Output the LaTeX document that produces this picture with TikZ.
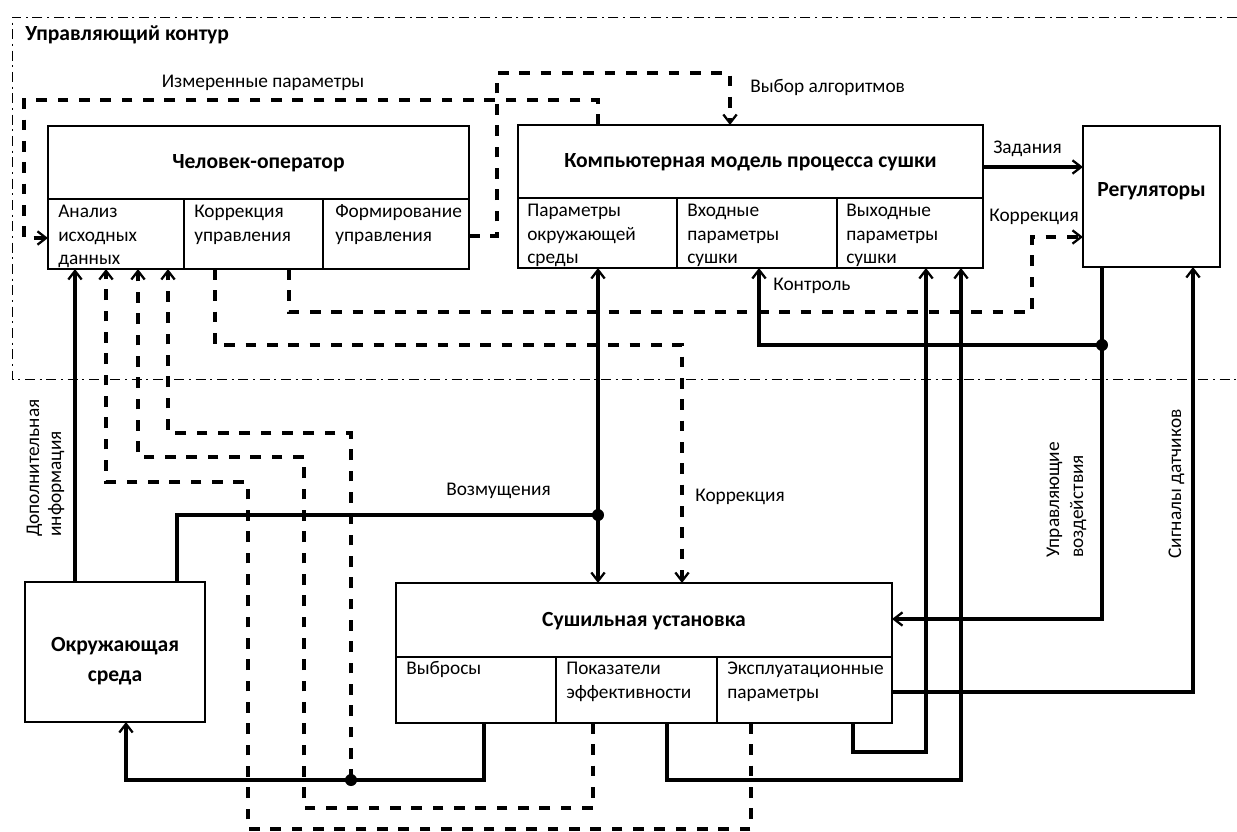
\documentclass[tikz,border=0pt]{standalone}
\usepackage{fontspec}
\setmainfont{Carlito}
\usetikzlibrary{arrows.meta,fit}
\begin{document}
\begin{tikzpicture}[x=0.75pt,y=-0.75pt,
  box/.style={draw, line width=1pt, inner sep=0pt, outer sep=0pt},
  t/.style={inner sep=0pt, anchor=base west, font=\fontsize{14.5}{17}\selectfont},
  tc/.style={inner sep=0pt, anchor=base, font=\fontsize{14.5}{17}\selectfont},
  tb/.style={inner sep=0pt, anchor=base, font=\fontsize{16.2}{19}\selectfont\bfseries},
  ln/.style={line width=2.5pt},
  dl/.style={line width=2.5pt, dash pattern=on 8pt off 8pt},
  ar/.style={-{Straight Barb[length=6.5pt,width=10pt,line width=1.7pt]}},
  ar2/.style={{Straight Barb[length=6.5pt,width=10pt,line width=1.7pt]}-{Straight Barb[length=6.5pt,width=10pt,line width=1.7pt]}},
  dot/.style={circle, fill, inner sep=0pt, minimum size=9pt},
  dashdot/.style={line width=0.7pt, dash pattern=on 7.5pt off 3.5pt on 1.5pt off 3.5pt}
]
\useasboundingbox (0,0) rectangle (1237,831);

% control loop boundary
\draw[dashdot] (1237,17) -- (12,17) -- (12,379) -- (1237,379);
\node[inner sep=0pt, anchor=base west, font=\fontsize{16.2}{19}\selectfont\bfseries] (title) at (25,41) {Управляющий контур};

% Человек-оператор
\node[box, fit={(48,126) (469,269)}] (op) {};
\node[box, fit={(48,199) (184,269)}] (op1) {};
\node[box, fit={(184,199) (323,269)}] (op2) {};
\node[box, fit={(323,199) (469,269)}] (op3) {};
\node[tb] (opT) at (258.5,168) {Человек-оператор};
\node[t] (op1a) at (58,217) {Анализ};
\node[t] (op1b) at (58,241) {исходных};
\node[t] (op1c) at (58,264) {данных};
\node[t] (op2a) at (194,217) {Коррекция};
\node[t] (op2b) at (194,241) {управления};
\node[t] (op3a) at (335,217) {Формирование};
\node[t] (op3b) at (335,241) {управления};

% Компьютерная модель
\node[box, fit={(518,125) (983,268)}] (cm) {};
\node[box, fit={(518,198) (677,268)}] (cm1) {};
\node[box, fit={(677,198) (837,268)}] (cm2) {};
\node[box, fit={(837,198) (983,268)}] (cm3) {};
\node[tb] (cmT) at (750.5,167) {Компьютерная модель процесса сушки};
\node[t] (cm1a) at (527,216) {Параметры};
\node[t] (cm1b) at (527,240) {окружающей};
\node[t] (cm1c) at (527,263) {среды};
\node[t] (cm2a) at (687,216) {Входные};
\node[t] (cm2b) at (687,240) {параметры};
\node[t] (cm2c) at (687,263) {сушки};
\node[t] (cm3a) at (846,216) {Выходные};
\node[t] (cm3b) at (846,240) {параметры};
\node[t] (cm3c) at (846,263) {сушки};

% Регуляторы
\node[box, fit={(1083,126) (1220,267)}] (reg) {};
\node[tb] (regT) at (1151.5,196) {Регуляторы};

% Сушильная установка
\node[box, fit={(396,583) (892,723)}] (sus) {};
\node[box, fit={(396,657) (556,723)}] (sus1) {};
\node[box, fit={(556,657) (717,723)}] (sus2) {};
\node[box, fit={(717,657) (892,723)}] (sus3) {};
\node[tb] (susT) at (644,626) {Сушильная установка};
\node[t] (sus1a) at (406,674) {Выбросы};
\node[t] (sus2a) at (566,674) {Показатели};
\node[t] (sus2b) at (566,698) {эффективности};
\node[t] (sus3a) at (727,674) {Эксплуатационные};
\node[t] (sus3b) at (727,698) {параметры};

% Окружающая среда
\node[box, fit={(25,582) (205,722)}] (env) {};
\node[tb] (envA) at (115,651) {Окружающая};
\node[tb] (envB) at (115,681) {среда};

% junction dots
\node[dot] (d1) at (1102,345) {};
\node[dot] (d2) at (351,780) {};
\node[dot] (d3) at (598,515) {};

% connectors
\draw[dl,ar] (598,0 |- cm.north) |- (24,100) |- (op1.west |- 0,238);
\draw[dl,ar] (op3.east |- 0,236) -| (497,73) -| (730,0 |- cm.north);
\draw[ln,ar] (cm.east |- 0,167) -- (reg.west |- 0,167);
\draw[dl,ar] (289,0 |- op2.south) |- (1032,312) |- (reg.west |- 0,237);
\draw[ln,ar] (1102,0 |- reg.south) |- (sus.east |- 0,619);
\draw[ln,ar] (d1.center) -| (759,0 |- cm2.south);
\draw[ln,ar] (sus3.east |- 0,692) -| (1193,0 |- reg.south);
\draw[ln,ar] (853,0 |- sus3.south) |- (926,752) -- (926,0 |- cm3.south);
\draw[ln,ar] (667,0 |- sus2.south) |- (961,780) -- (961,0 |- cm3.south);
\draw[ln,ar] (484,0 |- sus1.south) |- (126,780) -- (126,0 |- env.south);
\draw[dl,ar] (d2.center) |- (168,433) -- (168,0 |- op1.south);
\draw[dl,ar] (593,0 |- sus2.south) |- (304,808) |- (138,457) -- (138,0 |- op1.south);
\draw[dl,ar] (751,0 |- sus3.south) |- (248,829) |- (106,482) -- (106,0 |- op1.south);
\draw[ln,ar] (75,0 |- env.north) -- (75,0 |- op1.south);
\draw[ln] (177,0 |- env.north) |- (d3.center);
\draw[ln,ar2] (598,0 |- cm1.south) -- (598,0 |- sus.north);
\draw[dl,ar] (215,0 |- op2.south) |- (682,345) -- (682,0 |- sus.north);

% labels
\node[tc] (lMeas) at (263,88) {Измеренные параметры};
\node[t] (lAlg) at (750,93) {Выбор алгоритмов};
\node[t] (lTask) at (993,154) {Задания};
\node[t] (lCor1) at (989,221) {Коррекция};
\node[t] (lCtrl) at (773,290) {Контроль};
\node[t] (lDist) at (446,495) {Возмущения};
\node[t] (lCor2) at (695,501) {Коррекция};
\node[t, rotate=90] (lAdd1) at (39,537) {Дополнительная};
\node[t, rotate=90] (lAdd2) at (61,537) {информация};
\node[t, rotate=90] (lUpr1) at (1059,558) {Управляющие};
\node[t, rotate=90] (lUpr2) at (1083,558) {воздействия};
\node[t, rotate=90] (lSig) at (1181,559) {Сигналы датчиков};
\end{tikzpicture}
\end{document}
